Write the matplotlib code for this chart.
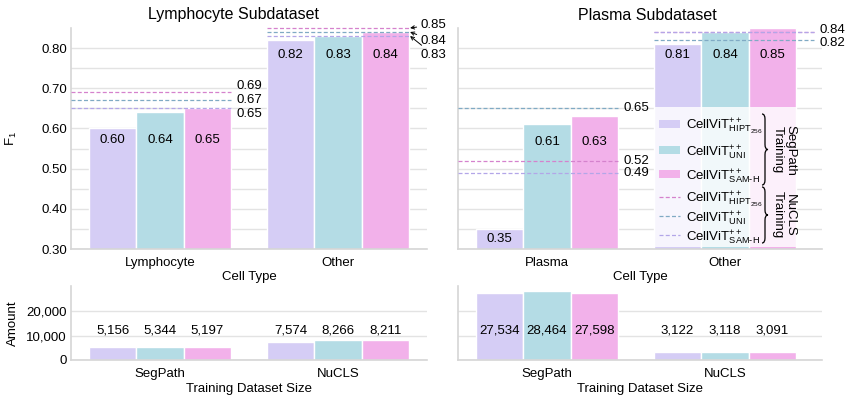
import matplotlib
matplotlib.use('Agg')
import matplotlib.pyplot as plt
import numpy as np
from matplotlib.patches import Rectangle, PathPatch
from matplotlib.lines import Line2D
from matplotlib.path import Path
from matplotlib.ticker import FuncFormatter

plt.rcParams['font.family'] = ['Liberation Sans', 'DejaVu Sans']
plt.rcParams['mathtext.fontset'] = 'custom'
plt.rcParams['mathtext.rm'] = 'Liberation Sans'
plt.rcParams['mathtext.it'] = 'Liberation Sans:italic'
plt.rcParams['mathtext.bf'] = 'Liberation Sans:bold'
plt.rcParams['font.size'] = 9.5

# ---------------- data ----------------
model_labels = [r'CellViT$^{++}_{\mathrm{HIPT}_{256}}$',
                r'CellViT$^{++}_{\mathrm{UNI}}$',
                r'CellViT$^{++}_{\text{SAM-H}}$']

lymph_cells = ['Lymphocyte', 'Other']
lymph_segpath_hipt = [0.60, 0.82]
lymph_segpath_uni = [0.64, 0.83]
lymph_segpath_sam = [0.65, 0.84]
lymph_nucls_hipt = [0.69, 0.85]
lymph_nucls_uni = [0.67, 0.84]
lymph_nucls_sam = [0.65, 0.83]

plasma_cells = ['Plasma', 'Other']
plasma_segpath_hipt = [0.35, 0.81]
plasma_segpath_uni = [0.61, 0.84]
plasma_segpath_sam = [0.63, 0.85]
plasma_nucls_hipt = [0.52, 0.84]
plasma_nucls_uni = [0.65, 0.82]
plasma_nucls_sam = [0.49, 0.84]

train_sets = ['SegPath', 'NuCLS']
lymph_amount_hipt = [5156, 7574]
lymph_amount_uni = [5344, 8266]
lymph_amount_sam = [5197, 8211]
plasma_amount_hipt = [27534, 3122]
plasma_amount_uni = [28464, 3118]
plasma_amount_sam = [27598, 3091]

# ---------------- style ----------------
bar_colors = ['#d5cdf5', '#b4dce5', '#f2b1ea']
dash_colors = ['#d582cd', '#80aac4', '#b3a6e8']   # nucls HIPT, UNI, SAM-H
grid_c = '#e3e3e3'
spine_c = '#d6d6d6'
DASH = (0, (3.2, 1.8))
FIG_W, FIG_H = 847, 397

fig = plt.figure(figsize=(FIG_W / 100, FIG_H / 100), dpi=100)


def fx(x):
    return x / FIG_W


def fy(y):
    return 1 - y / FIG_H


def px_axes(x0, y0, x1, y1):
    return fig.add_axes([x0 / FIG_W, 1 - y1 / FIG_H, (x1 - x0) / FIG_W, (y1 - y0) / FIG_H])


axTL = px_axes(71, 28, 427, 249)
axTR = px_axes(458, 28, 822, 249)
axBL = px_axes(71, 286, 427, 360)
axBR = px_axes(458, 286, 822, 360)


def style(ax):
    ax.set_facecolor('white')
    for s in ['top', 'right']:
        ax.spines[s].set_visible(False)
    for s in ['left', 'bottom']:
        ax.spines[s].set_color(spine_c)
        ax.spines[s].set_linewidth(1.2)
    ax.tick_params(axis='both', which='both', length=0)
    ax.tick_params(axis='y', pad=3)
    ax.tick_params(axis='x', pad=6)
    ax.set_axisbelow(True)
    ax.grid(axis='y', which='both', color=grid_c, linewidth=1.0)
    ax.grid(axis='x', visible=False)


BW = 0.8 / 3


def bars(ax, series, cats):
    x = np.arange(len(cats))
    for i, vals in enumerate(series):
        ax.bar(x - 0.4 + BW * (i + 0.5), vals, width=BW, color=bar_colors[i],
               edgecolor='white', linewidth=1.0, zorder=2)
    ax.set_xticks(x)
    ax.set_xticklabels(cats)


# ---------- top panels ----------
for ax, segs, cats, xr in [
        (axTL, [lymph_segpath_hipt, lymph_segpath_uni, lymph_segpath_sam], lymph_cells, 1.5),
        (axTR, [plasma_segpath_hipt, plasma_segpath_uni, plasma_segpath_sam], plasma_cells, 1.545)]:
    style(ax)
    bars(ax, segs, cats)
    ax.set_xlim(-0.5, xr)
    ax.set_ylim(0.3, 0.85)
    ax.set_yticks(np.arange(0.3, 0.81, 0.1))
    ax.set_yticks(np.arange(0.35, 0.80, 0.1), minor=True)
    ax.yaxis.set_major_formatter(FuncFormatter(lambda v, p: f'{v:.2f}'))
    ax.set_xlabel('Cell Type', labelpad=1.5)

axTR.set_yticklabels([])
axTL.set_ylabel(r'F$_1$')
axTL.yaxis.set_label_coords(-0.146, 0.5)

# bar value labels (vertical positions are layout)
lab_y_TL = [[0.571, 0.571, 0.571], [0.783, 0.783, 0.783]]
lab_y_TR = [[0.325, 0.566, 0.566], [0.783, 0.783, 0.783]]
for ax, segs, laby in [(axTL, [lymph_segpath_hipt, lymph_segpath_uni, lymph_segpath_sam], lab_y_TL),
                       (axTR, [plasma_segpath_hipt, plasma_segpath_uni, plasma_segpath_sam], lab_y_TR)]:
    for i, vals in enumerate(segs):
        for g, v in enumerate(vals):
            ax.text(g - 0.4 + BW * (i + 0.5), laby[g][i], f'{v:.2f}', ha='center', va='center',
                    fontsize=9.5, zorder=5)


# dashed NuCLS reference lines
def dashed(ax, nucls, spans):
    for i, vals in enumerate(nucls):
        for g, v in enumerate(vals):
            ax.plot(spans[g], [v, v], color=dash_colors[i], lw=0.9,
                    linestyle=DASH, zorder=4, clip_on=False)


dashed(axTL, [lymph_nucls_hipt, lymph_nucls_uni, lymph_nucls_sam], [(-0.5, 0.4), (0.6, 1.4)])
dashed(axTR, [plasma_nucls_hipt, plasma_nucls_uni, plasma_nucls_sam], [(-0.5, 0.4), (0.6, 1.5)])

# dashed line labels
for v, yy in zip([lymph_nucls_hipt[0], lymph_nucls_uni[0], lymph_nucls_sam[0]], [0.705, 0.672, 0.636]):
    axTL.text(0.43, yy, f'{v:.2f}', ha='left', va='center', fontsize=9.5)
for v, yy in zip([lymph_nucls_hipt[1], lymph_nucls_uni[1], lymph_nucls_sam[1]], [0.858, 0.818, 0.783]):
    axTL.annotate(f'{v:.2f}', xy=(1.405, v), xytext=(1.465, yy), ha='left', va='center',
                  fontsize=9.5, annotation_clip=False,
                  arrowprops=dict(arrowstyle='->', lw=0.7, color='black',
                                  shrinkA=1, shrinkB=0, mutation_scale=6))
for v in [plasma_nucls_uni[0], plasma_nucls_hipt[0], plasma_nucls_sam[0]]:
    axTR.text(0.43, v, f'{v:.2f}', ha='left', va='center', fontsize=9.5)
for v, yy in zip([plasma_nucls_hipt[1], plasma_nucls_uni[1]], [0.846, 0.812]):
    axTR.text(1.53, yy, f'{v:.2f}', ha='left', va='center', fontsize=9.5, clip_on=False)

# ---------- bottom panels ----------
amount_top = max(plasma_amount_uni + plasma_amount_hipt + plasma_amount_sam) * 1.07
for ax, amts, xr in [(axBL, [lymph_amount_hipt, lymph_amount_uni, lymph_amount_sam], 1.5),
                     (axBR, [plasma_amount_hipt, plasma_amount_uni, plasma_amount_sam], 1.545)]:
    style(ax)
    bars(ax, amts, train_sets)
    ax.set_xlim(-0.5, xr)
    ax.set_ylim(0, amount_top)
    ax.set_yticks([0, 10000, 20000])
    ax.yaxis.set_major_formatter(FuncFormatter(lambda v, p: f'{int(v):,}'))
    ax.set_xlabel('Training Dataset Size', labelpad=2)
    for i, vals in enumerate(amts):
        for g, v in enumerate(vals):
            ax.text(g - 0.4 + BW * (i + 0.5), 12300, f'{v:,}', ha='center', va='center',
                    fontsize=9.5, zorder=5)
axBR.set_yticklabels([])
axBL.set_ylabel('Amount')
axBL.yaxis.set_label_coords(-0.146, 0.5)

# ---------- titles ----------
fig.text(fx(234), fy(15), 'Lymphocyte Subdataset', ha='center', va='center', fontsize=11.5)
fig.text(fx(647), fy(15), 'Plasma Subdataset', ha='center', va='center', fontsize=11.5)

# ---------- legend (drawn by hand) ----------
bg = Rectangle((fx(655), fy(247)), fx(797) - fx(655), fy(107) - fy(247), transform=fig.transFigure,
               facecolor='white', alpha=0.82, edgecolor='none', zorder=10)
fig.add_artist(bg)

solid_rows = [124, 150, 174]
dash_rows = [197, 216, 235]
for i, yc in enumerate(solid_rows):
    fig.add_artist(Rectangle((fx(659), fy(yc + 4)), fx(680) - fx(659), fy(yc - 4) - fy(yc + 4),
                             transform=fig.transFigure, facecolor=bar_colors[i],
                             edgecolor='none', zorder=11))
    fig.text(fx(686), fy(yc + 5.5), model_labels[i], ha='left', va='baseline',
             fontsize=9.5, zorder=12)
for i, yc in enumerate(dash_rows):
    fig.add_artist(Line2D([fx(659), fx(680)], [fy(yc), fy(yc)], transform=fig.transFigure,
                          color=dash_colors[i], lw=0.9, linestyle=DASH, zorder=11))
    fig.text(fx(686), fy(yc + 5.5), model_labels[i], ha='left', va='baseline',
             fontsize=9.5, zorder=12)


def brace(x0, ytop, ybot, w=6, r=5):
    ym = (ytop + ybot) / 2
    xm = x0 + w / 2
    pts = [(x0, ytop), (xm, ytop), (xm, ytop + r), (xm, ym - r), (xm, ym), (x0 + w, ym),
           (xm, ym), (xm, ym + r), (xm, ybot - r), (xm, ybot), (x0, ybot)]
    codes = [Path.MOVETO, Path.CURVE3, Path.CURVE3, Path.LINETO, Path.CURVE3, Path.CURVE3,
             Path.CURVE3, Path.CURVE3, Path.LINETO, Path.CURVE3, Path.CURVE3]
    verts = [(fx(a), fy(b)) for a, b in pts]
    fig.add_artist(PathPatch(Path(verts, codes), transform=fig.transFigure, facecolor='none',
                             edgecolor='black', lw=0.9, zorder=12))


brace(762, 114, 185)
brace(762, 187, 243)
fig.text(fx(784), fy(150), 'SegPath\nTraining', rotation=270, ha='center', va='center',
         fontsize=9.5, linespacing=1.0, zorder=12)
fig.text(fx(784), fy(215), 'NuCLS\nTraining', rotation=270, ha='center', va='center',
         fontsize=9.5, linespacing=1.0, zorder=12)

fig.savefig('out.png', dpi=100)
